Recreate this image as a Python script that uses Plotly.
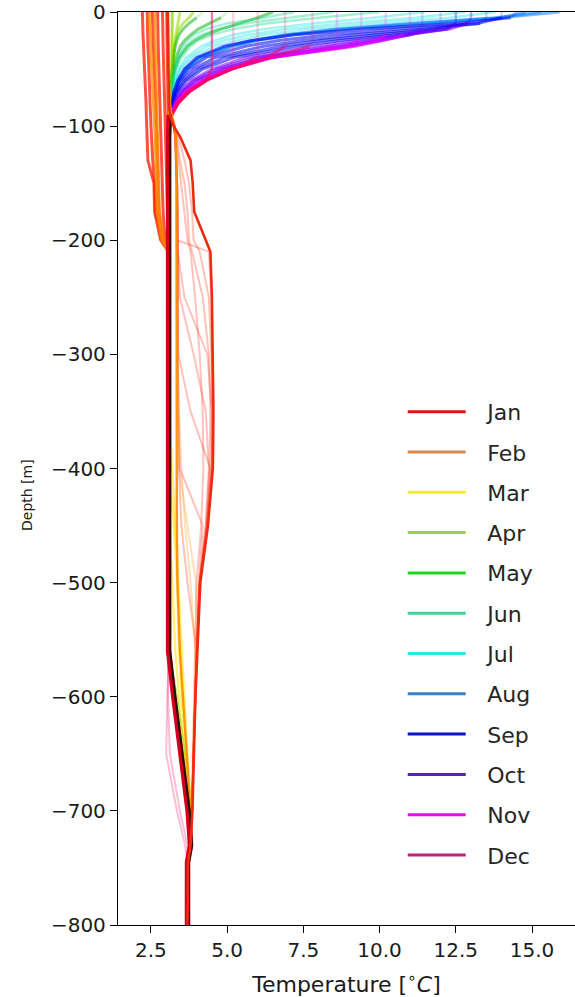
import plotly.graph_objects as go

# ---------------- data ----------------
MONTHS = ["Jan", "Feb", "Mar", "Apr", "May", "Jun",
          "Jul", "Aug", "Sep", "Oct", "Nov", "Dec"]
LEGEND_COLORS = ["#dd1515", "#d38a4c", "#f2ee1a", "#9ccf4e", "#22d322", "#3fd39a",
                 "#2ee6e6", "#3b80c6", "#0c14c8", "#5a22a8", "#e014e0", "#c4207a"]
LINE_COLORS = ["#ff1a00", "#ff8c00", "#ffe600", "#8fdc00", "#12b812", "#00d68a",
               "#00dede", "#0a82ff", "#0000f0", "#7a00ff", "#e600ff", "#ff0066"]

X_TICKS = [2.5, 5.0, 7.5, 10.0, 12.5, 15.0]
Y_TICKS = [0, -100, -200, -300, -400, -500, -600, -700, -800]

UPPER_DEPTH = [0, 5, 10, 15, 20, 25, 30, 40, 50, 60, 70, 80, 90, 100]
DEEP_DEPTH = [110, 130, 150, 175, 200, 210, 250, 300, 350, 400, 450, 500,
              560, 600, 650, 700, 730, 745, 800]
DEEP_BASE = [3.08, 3.08, 3.08, 3.08, 3.08, 3.08, 3.08, 3.08, 3.08, 3.08, 3.08, 3.08,
             3.08, 3.25, 3.48, 3.72, 3.8, 3.7, 3.7]

# upper-ocean profiles (deep part follows DEEP_BASE)
APR_UP = [
    [3.2, 3.2, 3.2, 3.2, 3.2, 3.2, 3.2, 3.19, 3.18, 3.17, 3.16, 3.14, 3.12, 3.1],
    [3.45, 3.42, 3.38, 3.34, 3.31, 3.28, 3.26, 3.23, 3.21, 3.19, 3.17, 3.15, 3.12, 3.1],
    [3.9, 3.75, 3.55, 3.42, 3.35, 3.3, 3.27, 3.24, 3.21, 3.19, 3.17, 3.15, 3.12, 3.1],
]
MAY_UP = [
    [4.2, 4.0, 3.75, 3.55, 3.42, 3.35, 3.3, 3.23, 3.19, 3.16, 3.14, 3.12, 3.11, 3.1],
    [5.0, 4.8, 4.4, 4.05, 3.8, 3.6, 3.47, 3.32, 3.23, 3.18, 3.15, 3.13, 3.11, 3.1],
    [6.5, 6.0, 5.4, 4.8, 4.3, 3.95, 3.7, 3.42, 3.28, 3.2, 3.16, 3.13, 3.11, 3.1],
]
JUN_UP = [
    [7.2, 6.2, 5.0, 4.3, 3.9, 3.7, 3.55, 3.37, 3.27, 3.21, 3.16, 3.13, 3.11, 3.1],
    [8.5, 7.0, 5.6, 4.7, 4.15, 3.85, 3.65, 3.42, 3.3, 3.22, 3.17, 3.14, 3.11, 3.1],
    [10.0, 8.0, 6.3, 5.2, 4.5, 4.05, 3.8, 3.5, 3.33, 3.24, 3.18, 3.14, 3.11, 3.1],
]
JUL_UP = [
    [11.5, 9.8, 7.8, 6.2, 5.2, 4.6, 4.15, 3.65, 3.4, 3.27, 3.2, 3.15, 3.12, 3.1],
    [12.8, 11.2, 8.8, 6.9, 5.7, 4.9, 4.35, 3.75, 3.45, 3.3, 3.21, 3.15, 3.12, 3.1],
    [13.8, 12.3, 9.8, 7.6, 6.2, 5.3, 4.6, 3.85, 3.5, 3.32, 3.22, 3.16, 3.12, 3.1],
]
AUG_UP = [
    [15.9, 14.0, 11.2, 8.7, 7.0, 5.9, 5.1, 4.1, 3.65, 3.4, 3.26, 3.18, 3.13, 3.1],
    [15.3, 13.8, 11.0, 8.5, 6.9, 5.8, 5.0, 4.05, 3.62, 3.38, 3.25, 3.17, 3.12, 3.1],
    [14.8, 14.0, 11.8, 9.0, 7.2, 6.0, 5.2, 4.15, 3.68, 3.42, 3.27, 3.18, 3.13, 3.1],
]
SEP_UP = [
    [14.5, 14.3, 12.5, 9.5, 7.2, 5.8, 4.9, 4.0, 3.6, 3.38, 3.25, 3.17, 3.12, 3.1],
    [14.0, 14.0, 13.2, 10.6, 8.3, 6.7, 5.6, 4.3, 3.75, 3.45, 3.28, 3.19, 3.13, 3.1],
    [13.5, 13.5, 13.3, 11.4, 9.2, 7.5, 6.2, 4.6, 3.9, 3.52, 3.31, 3.2, 3.13, 3.1],
    [13.0, 13.0, 12.9, 11.8, 9.9, 8.1, 6.8, 4.9, 4.05, 3.6, 3.35, 3.22, 3.14, 3.1],
    [12.5, 12.5, 12.5, 12.2, 10.5, 8.7, 7.3, 5.2, 4.2, 3.67, 3.38, 3.23, 3.14, 3.1],
]
OCT_UP = [
    [13.0, 13.0, 12.9, 12.3, 10.8, 9.2, 7.9, 5.6, 4.5, 3.82, 3.45, 3.26, 3.15, 3.1],
    [12.5, 12.5, 12.5, 12.2, 10.9, 9.6, 8.4, 5.9, 4.65, 3.9, 3.5, 3.28, 3.15, 3.1],
    [12.0, 12.0, 12.0, 11.9, 11.0, 9.9, 8.7, 6.1, 4.8, 3.97, 3.53, 3.29, 3.16, 3.1],
    [11.4, 11.4, 11.4, 11.4, 11.0, 10.1, 9.0, 6.3, 4.9, 4.05, 3.57, 3.3, 3.16, 3.1],
]
NOV_UP = [
    [11.0, 11.0, 11.0, 11.0, 10.8, 10.1, 9.2, 6.4, 5.0, 4.15, 3.6, 3.32, 3.17, 3.1],
    [10.2, 10.2, 10.2, 10.2, 10.2, 9.9, 9.1, 6.4, 5.05, 4.2, 3.63, 3.33, 3.17, 3.1],
    [9.4, 9.4, 9.4, 9.4, 9.4, 9.3, 8.9, 6.45, 5.1, 4.22, 3.65, 3.34, 3.17, 3.1],
    [8.6, 8.6, 8.6, 8.6, 8.6, 8.6, 8.5, 6.5, 5.1, 4.25, 3.67, 3.35, 3.17, 3.1],
]
DEC_UP = [
    [7.8, 7.8, 7.8, 7.8, 7.8, 7.8, 7.7, 6.4, 5.15, 4.27, 3.7, 3.36, 3.18, 3.1],
    [6.9, 6.9, 6.9, 6.9, 6.9, 6.9, 6.9, 6.3, 5.15, 4.3, 3.72, 3.37, 3.18, 3.1],
    [6.0, 6.0, 6.0, 6.0, 6.0, 6.0, 6.0, 6.0, 5.15, 4.32, 3.74, 3.38, 3.18, 3.1],
    [5.2, 5.2, 5.2, 5.2, 5.2, 5.2, 5.2, 5.2, 5.1, 4.33, 3.75, 3.39, 3.18, 3.1],
    [4.5, 4.5, 4.5, 4.5, 4.5, 4.5, 4.5, 4.5, 4.5, 4.3, 3.76, 3.4, 3.19, 3.1],
]

# winter cold surface profiles (full columns)
JAN_COLD_UP = [
    [2.22, 2.22, 2.23, 2.23, 2.24, 2.25, 2.26, 2.28, 2.3, 2.31, 2.32, 2.34, 2.35, 2.36],
    [2.38, 2.38, 2.38, 2.39, 2.39, 2.4, 2.4, 2.42, 2.44, 2.45, 2.46, 2.47, 2.48, 2.5],
    [2.55, 2.55, 2.55, 2.56, 2.56, 2.57, 2.58, 2.6, 2.62, 2.63, 2.65, 2.66, 2.67, 2.68],
    [2.72, 2.72, 2.72, 2.72, 2.73, 2.73, 2.74, 2.75, 2.76, 2.77, 2.78, 2.79, 2.8, 2.82],
    [2.88, 2.88, 2.88, 2.89, 2.89, 2.9, 2.9, 2.91, 2.92, 2.93, 2.94, 2.95, 2.96, 2.97],
    [3.02, 3.02, 3.02, 3.02, 3.03, 3.03, 3.03, 3.04, 3.04, 3.05, 3.05, 3.06, 3.06, 3.07],
]
JAN_COLD_DEEP = [
    [2.38, 2.4, 2.6, 2.62, 2.82, 3.08, 3.08, 3.08, 3.08, 3.08, 3.08, 3.08, 3.08, 3.25, 3.48, 3.72, 3.8, 3.7, 3.7],
    [2.52, 2.56, 2.62, 2.66, 2.85, 3.08, 3.08, 3.08, 3.08, 3.08, 3.08, 3.08, 3.08, 3.25, 3.48, 3.72, 3.8, 3.7, 3.7],
    [2.7, 2.72, 2.74, 2.76, 2.9, 3.08, 3.08, 3.08, 3.08, 3.08, 3.08, 3.08, 3.08, 3.25, 3.48, 3.72, 3.8, 3.7, 3.7],
    [2.84, 2.86, 2.88, 2.9, 2.96, 3.08, 3.08, 3.08, 3.08, 3.08, 3.08, 3.08, 3.08, 3.25, 3.48, 3.72, 3.8, 3.7, 3.7],
    [2.98, 3.0, 3.02, 3.03, 3.05, 3.08, 3.08, 3.08, 3.08, 3.08, 3.08, 3.08, 3.08, 3.25, 3.48, 3.72, 3.8, 3.7, 3.7],
    [3.07, 3.08, 3.08, 3.08, 3.08, 3.08, 3.08, 3.08, 3.08, 3.08, 3.08, 3.08, 3.08, 3.25, 3.48, 3.72, 3.8, 3.7, 3.7],
]
FEB_COLD_UP = [
    [2.62, 2.62, 2.62, 2.63, 2.63, 2.64, 2.64, 2.65, 2.66, 2.67, 2.68, 2.69, 2.7, 2.71],
    [2.45, 2.45, 2.46, 2.46, 2.47, 2.48, 2.49, 2.5, 2.52, 2.54, 2.56, 2.58, 2.6, 2.62],
]
FEB_COLD_DEEP = [
    [2.72, 2.74, 2.76, 2.78, 2.92, 3.08, 3.08, 3.08, 3.08, 3.08, 3.08, 3.08, 3.08, 3.25, 3.48, 3.72, 3.8, 3.7, 3.7],
    [2.64, 2.66, 2.68, 2.7, 2.85, 3.08, 3.08, 3.08, 3.08, 3.08, 3.08, 3.08, 3.08, 3.25, 3.48, 3.72, 3.8, 3.7, 3.7],
]

# Jan warm intermediate layer profiles
JAN_WARM_UP = [3.05, 3.05, 3.05, 3.05, 3.06, 3.06, 3.06, 3.07, 3.07, 3.08, 3.08, 3.09, 3.12, 3.25]
JAN_WARM_MAIN = [3.47, 3.8, 3.87, 3.92, 4.3, 4.45, 4.5, 4.52, 4.55, 4.53, 4.37, 4.12,
                 4.02, 3.96, 3.91, 3.86, 3.8, 3.72, 3.7]
JAN_WARM_DEEP = [
    [3.4, 3.6, 3.75, 3.85, 3.9, 4.1, 4.4, 4.48, 4.5, 4.48, 4.33, 4.1, 4.0, 3.95, 3.9, 3.85, 3.8, 3.72, 3.7],
    [3.35, 3.45, 3.6, 3.7, 3.75, 3.85, 4.2, 4.4, 4.45, 4.42, 4.3, 4.08, 4.0, 3.95, 3.9, 3.85, 3.8, 3.72, 3.7],
    [3.3, 3.32, 3.34, 3.35, 3.36, 4.4, 4.48, 4.5, 4.52, 4.5, 4.35, 4.1, 4.0, 3.95, 3.9, 3.85, 3.8, 3.72, 3.7],
    [3.3, 3.34, 3.36, 3.37, 3.38, 3.38, 3.6, 4.35, 4.5, 4.5, 4.35, 4.1, 4.0, 3.95, 3.9, 3.85, 3.8, 3.72, 3.7],
    [3.3, 3.34, 3.36, 3.37, 3.38, 3.38, 3.45, 3.9, 4.3, 4.4, 4.3, 4.1, 4.0, 3.95, 3.9, 3.85, 3.8, 3.72, 3.7],
    [3.3, 3.34, 3.36, 3.37, 3.38, 3.38, 3.38, 3.4, 3.8, 4.45, 4.35, 4.1, 4.0, 3.95, 3.9, 3.85, 3.8, 3.72, 3.7],
    [3.3, 3.34, 3.36, 3.37, 3.38, 3.38, 3.38, 3.38, 3.4, 3.45, 4.2, 4.08, 4.0, 3.95, 3.9, 3.85, 3.8, 3.72, 3.7],
    [3.3, 3.34, 3.36, 3.37, 3.38, 3.38, 3.38, 3.38, 3.39, 3.42, 3.5, 3.7, 4.0, 3.95, 3.9, 3.85, 3.8, 3.72, 3.7],
    [3.32, 3.4, 3.5, 3.6, 3.7, 3.8, 3.95, 4.1, 4.2, 4.22, 4.15, 4.0, 3.96, 3.93, 3.88, 3.84, 3.8, 3.72, 3.7],
]

# Feb / Mar / Apr / Dec deep variants
FEB_LINE_UP = [3.06, 3.06, 3.06, 3.06, 3.06, 3.07, 3.07, 3.07, 3.08, 3.09, 3.1, 3.12, 3.18, 3.28]
FEB_LINE_DEEP = [
    [3.32, 3.34, 3.34, 3.34, 3.34, 3.34, 3.34, 3.34, 3.34, 3.34, 3.35, 3.37, 3.45, 3.55, 3.68, 3.8, 3.82, 3.72, 3.7],
    [3.3, 3.33, 3.34, 3.34, 3.34, 3.34, 3.35, 3.36, 3.38, 3.42, 3.7, 3.98, 4.0, 3.95, 3.9, 3.85, 3.8, 3.72, 3.7],
    [3.3, 3.33, 3.34, 3.34, 3.34, 3.35, 3.36, 3.38, 3.42, 3.5, 3.62, 3.8, 3.95, 3.92, 3.88, 3.84, 3.8, 3.72, 3.7],
]
MAR_UP = [3.06, 3.06, 3.06, 3.06, 3.06, 3.07, 3.07, 3.07, 3.08, 3.08, 3.09, 3.1, 3.1, 3.09]
MAR_DEEP = [
    [3.08, 3.08, 3.08, 3.08, 3.08, 3.08, 3.08, 3.08, 3.08, 3.1, 3.25, 3.36, 3.42, 3.5, 3.62, 3.78, 3.82, 3.72, 3.7],
    [3.08, 3.08, 3.08, 3.08, 3.08, 3.08, 3.08, 3.08, 3.08, 3.08, 3.1, 3.2, 3.3, 3.42, 3.56, 3.74, 3.8, 3.72, 3.7],
    [3.08, 3.08, 3.08, 3.08, 3.08, 3.08, 3.08, 3.08, 3.1, 3.2, 3.3, 3.4, 3.5, 3.58, 3.7, 3.82, 3.84, 3.72, 3.7],
]
APR_DEEP = [
    [3.08, 3.08, 3.08, 3.08, 3.08, 3.08, 3.08, 3.08, 3.08, 3.08, 3.08, 3.08, 3.1, 3.35, 3.62, 3.76, 3.8, 3.72, 3.7],
]
DEC_DEEP = [
    [3.08, 3.08, 3.08, 3.08, 3.08, 3.08, 3.08, 3.08, 3.08, 3.08, 3.08, 3.08, 3.08, 3.04, 3.0, 3.35, 3.62, 3.7, 3.7],
    [3.08, 3.08, 3.08, 3.08, 3.08, 3.08, 3.08, 3.08, 3.08, 3.08, 3.08, 3.08, 3.08, 3.06, 3.12, 3.45, 3.7, 3.7, 3.7],
]
CORE_UP_DEPTH = [90, 100]
CORE_UP = [3.1, 3.08]

# ---------------- styles ----------------
STYLE = {
    "mixed": dict(opacity=0.16, width=2.5),
    "fan_light": dict(opacity=0.35, width=2.5),
    "fan": dict(opacity=0.55, width=3.0),
    "cold": dict(opacity=0.75, width=3.0),
    "warm_faint": dict(opacity=0.26, width=2.0),
    "deep": dict(opacity=0.55, width=2.2),
    "feb_line": dict(opacity=0.9, width=2.4),
    "main": dict(opacity=1.0, width=2.6),
}

fig = go.Figure()
FULL_DEPTH = UPPER_DEPTH + DEEP_DEPTH
Y_FULL = [-d for d in FULL_DEPTH]


def add_line(color, xs, ys, style):
    st = STYLE[style]
    fig.add_trace(go.Scatter(
        x=xs, y=ys, mode="lines",
        line=dict(color=color, width=st["width"]),
        opacity=st["opacity"], showlegend=False, hoverinfo="skip"))


def add_profile(month, temps, style, color=None):
    add_line(color or LINE_COLORS[month], temps, Y_FULL, style)


def add_fan_profile(month, temps, style):
    # mixed surface layer drawn faint, thermocline drawn strong
    k = 0
    while k < len(temps) and temps[k] >= temps[0] - 0.25:
        k += 1
    if k >= 2:
        add_line(LINE_COLORS[month], temps[:k], Y_FULL[:k], "mixed")
        add_line(LINE_COLORS[month], temps[k - 1:], Y_FULL[k - 1:], style)
    else:
        add_line(LINE_COLORS[month], temps, Y_FULL, style)


fan_sets = [(3, APR_UP, "fan"), (4, MAY_UP, "fan"), (5, JUN_UP, "fan_light"),
            (6, JUL_UP, "fan_light"), (7, AUG_UP, "fan"), (8, SEP_UP, "fan"),
            (9, OCT_UP, "fan"), (10, NOV_UP, "fan"), (11, DEC_UP, "fan")]
for m, profs, st in fan_sets:
    for p in profs:
        if m == 3:
            add_profile(m, p + DEEP_BASE, st)
        else:
            add_fan_profile(m, p + DEEP_BASE, st)

for up, dp in zip(JAN_COLD_UP, JAN_COLD_DEEP):
    add_profile(0, up + dp, "cold")
for up, dp in zip(FEB_COLD_UP, FEB_COLD_DEEP):
    add_profile(1, up + dp, "cold")
for dp in JAN_WARM_DEEP:
    add_profile(0, JAN_WARM_UP + dp, "warm_faint")
for dp in MAR_DEEP:
    add_profile(2, MAR_UP + dp, "deep")
for dp in APR_DEEP:
    add_profile(3, APR_UP[0] + dp, "deep")
for dp in DEC_DEEP:
    add_profile(11, DEC_UP[4] + dp, "warm_faint")
for i, dp in enumerate(FEB_LINE_DEEP):
    add_profile(1, FEB_LINE_UP + dp, "feb_line" if i == 0 else "warm_faint")

# overlapped core of the deep profiles
core_y = [-d for d in CORE_UP_DEPTH + DEEP_DEPTH]
core_x = CORE_UP + DEEP_BASE
fig.add_trace(go.Scatter(x=core_x, y=core_y, mode="lines",
                         line=dict(color="#d3001c", width=5.5),
                         showlegend=False, hoverinfo="skip"))
fig.add_trace(go.Scatter(x=[t + 0.05 for t in core_x], y=core_y, mode="lines",
                         line=dict(color="#2a0606", width=2),
                         showlegend=False, hoverinfo="skip"))

add_profile(0, JAN_WARM_UP + JAN_WARM_MAIN, "main", color="#f02a10")

# legend entries
for i, name in enumerate(MONTHS):
    fig.add_trace(go.Scatter(x=[None], y=[None], mode="lines",
                             name="\u2002\u2005" + name, legendgroup=name,
                             line=dict(color=LEGEND_COLORS[i], width=3)))

FONT = "DejaVu Sans"
fig.update_layout(
    width=575, height=997,
    margin=dict(l=118, r=0, t=12, b=72),
    paper_bgcolor="white", plot_bgcolor="white",
    font=dict(family=FONT, color="#1a1a1a", size=20),
    showlegend=True,
    legend=dict(x=0.623, y=0.585, xanchor="left", yanchor="top",
                bgcolor="rgba(255,255,255,0)", borderwidth=0,
                font=dict(family=FONT, size=22, color="#262626"),
                itemwidth=58, tracegroupgap=8.7),
    xaxis=dict(range=[1.42, 16.41], tickvals=X_TICKS, tickformat=".1f",
               ticks="outside", ticklen=7, tickwidth=1.3, tickcolor="#000",
               showline=True, linecolor="#000", linewidth=1.3, mirror=True,
               showgrid=False, zeroline=False,
               tickfont=dict(family=FONT, size=20, color="#1a1a1a"),
               title=dict(text="Temperature [<sup>∘</sup><i>C</i>]",
                          font=dict(family=FONT, size=22, color="#1a1a1a"),
                          standoff=18)),
    yaxis=dict(range=[-800, 0], tickvals=Y_TICKS,
               ticks="outside", ticklen=7, tickwidth=1.3, tickcolor="#000",
               showline=True, linecolor="#000", linewidth=1.3, mirror=False,
               showgrid=False, zeroline=False,
               tickfont=dict(family=FONT, size=20, color="#1a1a1a")),
    annotations=[dict(text="Depth [m]", textangle=-90,
                      xref="paper", yref="paper",
                      x=-(118 - 27) / 457, y=1 - (495 - 12) / 913,
                      xanchor="center", yanchor="middle", showarrow=False,
                      font=dict(family=FONT, size=14, color="#1a1a1a"))],
)

fig.write_html("out.html")
